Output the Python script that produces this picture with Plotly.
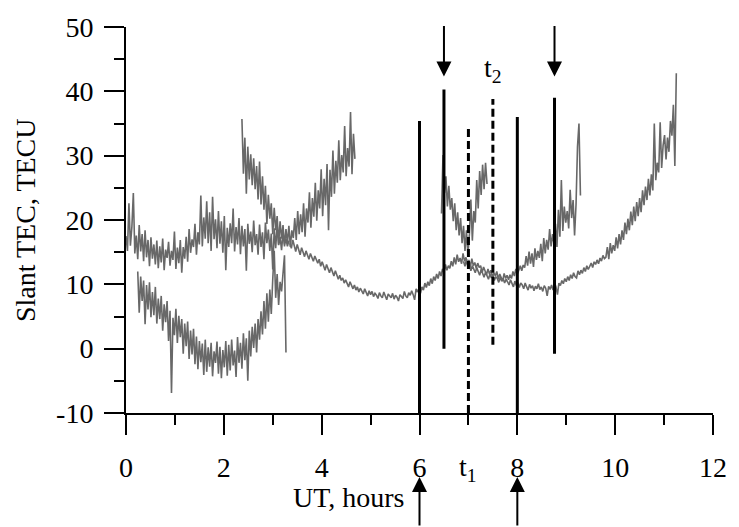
import plotly.graph_objects as go

# ---------------- data ----------------
# Each series: start time (h), sampling step (h), slant TEC values (TECU)
a_t0, a_dt = 0.0, 0.03
a_vals = [17.5, 15.2, 22.6, 16.0, 18.9, 24.2, 14.8, 17.6, 13.9, 19.2,
          15.1, 17.8, 13.6, 18.4, 14.2, 16.9, 12.8, 17.3, 14.0, 16.2,
          13.1, 16.8, 12.5, 15.9, 13.4, 17.1, 12.2, 15.4, 14.1, 16.6,
          12.9, 15.2, 13.8, 18.2, 12.4, 15.7, 13.3, 16.9, 11.8, 15.8,
          14.0, 17.4, 13.5, 18.6, 14.9, 17.0, 15.8, 19.4, 14.6, 18.1,
          16.2, 23.8, 15.9, 20.4, 17.1, 22.9, 16.4, 21.2, 15.2, 23.6,
          17.0, 20.1, 15.6, 21.4, 16.3, 19.8, 14.9, 20.6, 12.2, 18.8,
          15.8, 19.5, 16.4, 21.8, 15.1, 18.9, 16.2, 20.3, 14.7, 19.1,
          15.9, 18.6, 12.1, 19.4, 16.3, 18.2, 15.0, 19.9, 16.1, 17.8,
          14.6, 19.3, 15.8, 18.1, 13.9, 19.6, 16.4, 18.5, 15.2, 17.9,
          12.3, 18.7, 15.6, 19.2, 16.1, 17.4, 15.3, 18.0, 16.2, 17.1,
          15.9, 16.8]

b_t0, b_dt = 0.24, 0.03
b_vals = [12.0, 5.6, 11.2, 7.4, 10.6, 3.8, 9.9, 6.1, 10.3, 4.9,
          8.8, 5.2, 9.6, 3.9, 7.8, 4.6, 8.2, 2.8, 6.9, 4.1,
          7.4, 1.2, 5.9, -6.9, 4.8, 2.1, 6.2, 0.9, 5.1, 1.8,
          4.6, -0.8, 3.9, 0.4, 4.2, -1.6, 2.8, -0.9, 3.1, -2.4,
          1.9, -3.2, 1.2, -2.1, 0.8, -4.1, 1.4, -3.6, 0.2, -2.8,
          0.9, -4.3, -0.4, -2.2, 1.1, -3.9, 0.3, -4.6, -0.2, -2.9,
          1.2, -4.2, 0.6, -3.4, 1.4, -2.6, -0.3, -4.4, 1.8, -2.2,
          0.9, -3.1, 2.4, -1.8, 1.6, -5.0, 2.8, -1.2, 3.4, 0.1,
          3.9, -0.6, 4.6, 1.4, 5.8, 2.2, 7.4, 3.1, 8.6, 4.2,
          9.2, 5.4, 10.8, 15.2, 7.9, 11.6, 6.8, 10.4, 8.9, 12.1,
          14.5, -0.6]

c_t0, c_dt = 2.37, 0.03
c_vals = [35.7, 27.2, 32.8, 24.1, 31.4, 26.3, 30.2, 25.4, 29.6, 24.8,
          28.4, 23.2, 29.1, 22.4, 26.8, 21.6, 25.3, 19.4, 23.9, 20.2,
          22.6, 17.8, 21.9, 18.4, 20.6, 16.2, 19.8, 17.1, 19.2, 15.9,
          18.6, 16.4, 19.1, 15.8, 18.4, 17.2, 20.3, 16.9, 21.4, 17.8,
          20.9, 18.1, 22.6, 17.4, 21.8, 19.6, 24.3, 18.8, 23.4, 20.5,
          25.8, 19.9, 24.6, 21.8, 27.9, 20.6, 26.4, 22.3, 28.7, 18.4,
          27.8, 23.6, 30.8, 24.1, 29.2, 25.8, 32.4, 26.2, 30.1, 27.4,
          34.6, 26.8, 31.2, 28.3, 36.8, 27.1, 33.4, 29.5]

d_t0, d_dt = 3.35, 0.03
d_vals = [16.4, 15.6, 16.9, 15.8, 15.1, 16.2, 15.4, 14.6, 15.7, 15.0,
          14.3, 15.2, 14.6, 13.9, 14.8, 14.1, 13.6, 14.4, 13.8, 13.3,
          13.9, 12.8, 13.5, 12.9, 12.2, 13.1, 12.4, 11.8, 12.6, 11.9,
          11.3, 12.1, 11.5, 10.8, 11.4, 10.6, 11.0, 10.2, 10.7, 10.1,
          9.6, 10.4, 9.7, 9.3, 9.9, 9.1, 9.6, 8.8, 9.4, 9.0,
          8.5, 9.3, 8.7, 8.2, 9.0, 8.4, 8.9, 8.1, 8.6, 8.3,
          7.8, 8.7, 8.2, 7.9, 8.8, 8.0, 7.6, 8.5, 8.1, 7.9,
          8.6, 7.7, 8.3, 8.0, 7.4, 8.4, 8.1, 7.8, 8.9, 8.2,
          7.9, 8.7, 8.3, 9.0, 8.4, 7.6, 9.3, 8.8, 9.4, 8.6,
          9.6, 9.1, 10.2, 9.5, 10.4, 9.8, 10.9, 10.1, 11.2, 10.6,
          11.6, 10.9, 12.0, 11.3, 12.4, 11.8, 13.1, 12.2, 12.9, 12.5,
          13.6, 12.8, 14.2, 13.1, 14.6, 13.5, 14.1, 13.2, 14.8, 13.6,
          14.2, 13.1, 13.8, 12.7, 14.0, 12.9, 13.4, 12.5, 13.3, 12.6,
          12.9, 11.8, 12.7, 12.1, 11.5, 12.4, 11.6, 12.2, 11.1, 11.8,
          11.3, 12.0, 10.8, 11.6, 11.1, 10.5, 11.7, 10.9, 11.4, 10.7,
          11.5, 10.9, 12.0, 11.3, 12.4, 11.6, 12.2, 12.9, 12.1, 13.0,
          12.6, 14.4, 12.9, 15.1, 13.2, 14.8, 12.7, 15.6, 13.8, 15.2,
          14.1, 16.3, 13.6, 17.2, 14.8, 16.9, 15.4, 18.6, 15.9, 17.8,
          16.2, 19.4, 15.8, 21.6, 17.4, 26.2, 18.3, 22.1, 19.6, 21.4,
          18.7, 24.7, 20.3, 23.1, 17.6, 22.4, 31.4, 35.0, 23.8]

e_t0, e_dt = 6.45, 0.03
e_vals = [21.0, 30.1, 24.2, 26.8, 22.1, 25.3, 21.6, 23.4, 19.8, 22.6,
          18.4, 21.2, 17.6, 20.3, 16.4, 19.1, 15.2, 18.4, 14.6, 17.8,
          23.2, 16.8, 21.4, 19.6, 26.2, 21.8, 27.6, 23.9, 28.6, 24.8,
          28.9, 25.6]

f_t0, f_dt = 6.90, 0.03
f_vals = [13.6, 12.8, 13.9, 12.6, 13.2, 12.1, 12.9, 12.4, 11.8, 12.6,
          12.0, 11.4, 12.3, 11.6, 11.1, 11.9, 11.3, 10.8, 11.6, 11.0,
          11.4, 10.6, 11.2, 10.9, 10.3, 11.1, 10.5, 10.9, 10.2, 10.8,
          10.4, 9.9, 10.7, 10.1, 9.6, 10.5, 9.8, 10.3, 9.5, 10.2,
          9.9, 9.3, 10.2, 9.6, 9.1, 10.0, 9.4, 9.8, 9.0, 9.7,
          9.3, 10.1, 9.2, 9.6, 8.9, 9.8, 9.4, 8.2, 9.7, 9.2,
          9.9, 9.1, 10.3, 9.6, 8.4, 10.2, 9.8, 10.6, 10.1, 10.9,
          10.4, 11.2, 10.6, 11.5, 10.9, 11.8, 11.2, 11.0, 12.1, 11.5,
          12.2, 11.7, 12.6, 12.0, 12.9, 12.3, 12.7, 13.3, 12.6, 13.5,
          13.1, 13.8, 13.2, 14.1, 13.6, 14.5, 14.0,
          14.2, 15.8, 13.9, 16.4, 14.8, 16.1, 15.2, 17.3, 15.6, 17.8,
          16.2, 18.4, 16.9, 19.6, 17.8, 20.2, 18.4, 21.3, 19.2, 22.1,
          19.8, 22.8, 20.6, 23.4, 21.2, 24.6, 22.3, 25.2, 23.1, 26.4,
          23.8, 27.1, 24.6, 35.0, 26.2, 28.9, 27.4, 35.2, 28.1, 31.6,
          33.2, 29.4, 32.8, 30.6, 35.4, 33.1, 37.9, 28.4, 42.8]

series = [(a_t0, a_dt, a_vals), (b_t0, b_dt, b_vals), (c_t0, c_dt, c_vals),
          (d_t0, d_dt, d_vals), (e_t0, e_dt, e_vals), (f_t0, f_dt, f_vals)]

# vertical marker lines: time, bottom, top, dashed?
vline_x = [6.0, 6.5, 7.0, 7.5, 8.0, 8.76]
vline_bottom = [-10, 0.0, -10, 0.6, -10, -0.8]
vline_top = [35.4, 40.3, 34.2, 38.8, 36.0, 39.0]
vline_dashed = [False, False, True, True, False, False]

down_arrow_x = [6.5, 8.76]
down_arrow_tip = 42.3
up_arrow_x = [6.0, 8.0]

x_ticks = [0, 2, 4, 6, 8, 10, 12]
y_ticks = [-10, 0, 10, 20, 30, 40, 50]
y_ticktext = ["-10", "0", "10", "20", "30", "40", "50"]

FONT = "Liberation Serif, Times New Roman, serif"
GRAY = "#686868"
FS = 28

fig = go.Figure()
for t0, dt, vals in series:
    ts = [round(t0 + i * dt, 4) for i in range(len(vals))]
    fig.add_trace(go.Scatter(x=ts, y=vals, mode="lines",
                             line=dict(color=GRAY, width=1.6),
                             showlegend=False, hoverinfo="skip"))

for xv, yb, yt, dsh in zip(vline_x, vline_bottom, vline_top, vline_dashed):
    fig.add_trace(go.Scatter(x=[xv, xv], y=[yb, yt], mode="lines",
                             line=dict(color="black", width=3,
                                       dash="8px,4px" if dsh else "solid"),
                             showlegend=False, hoverinfo="skip"))

ann = []
for xv in down_arrow_x:
    ann.append(dict(x=xv, y=down_arrow_tip, xref="x", yref="y", text="",
                    showarrow=True, ax=0, ay=-52, arrowhead=2, arrowsize=1.5,
                    arrowwidth=2, arrowcolor="black", standoff=0))
for xv in up_arrow_x:
    ann.append(dict(x=xv, y=-0.166, xref="x", yref="paper", text="",
                    showarrow=True, ax=0, ay=50, arrowhead=2, arrowsize=1.5,
                    arrowwidth=2, arrowcolor="black", standoff=0))
ann.append(dict(x=7.0, y=-0.195, xref="x", yref="paper", text="t<sub>1</sub>",
                xanchor="center", yanchor="bottom", showarrow=False,
                font=dict(family=FONT, size=FS, color="black")))
ann.append(dict(x=7.5, y=43.4, xref="x", yref="y", text="t<sub>2</sub>",
                xanchor="center", yanchor="middle", showarrow=False,
                font=dict(family=FONT, size=FS, color="black")))
ann.append(dict(x=0.379, y=-0.265, xref="paper", yref="paper", text="UT, hours",
                xanchor="center", yanchor="bottom", showarrow=False,
                font=dict(family=FONT, size=FS, color="black")))
ann.append(dict(x=-0.172, y=0.5, xref="paper", yref="paper", text="Slant TEC, TECU",
                xanchor="center", yanchor="middle", textangle=-90, showarrow=False,
                font=dict(family=FONT, size=FS, color="black")))

axis_common = dict(showgrid=False, zeroline=False, showline=True, linecolor="black",
                   linewidth=2, ticks="outside", ticklen=20, tickwidth=2,
                   tickcolor="black", tickfont=dict(family=FONT, size=FS, color="black"))

fig.update_layout(
    width=739, height=527,
    margin=dict(l=126, r=16, t=22, b=114),
    paper_bgcolor="white", plot_bgcolor="white",
    xaxis=dict(range=[0, 12], tickvals=x_ticks, ticklabelstandoff=8,
               minor=dict(dtick=1, ticks="outside", ticklen=10, tickwidth=2,
                          tickcolor="black"),
               **axis_common),
    yaxis=dict(range=[-10, 50], tickvals=y_ticks, ticktext=y_ticktext,
               ticklabelstandoff=5,
               minor=dict(dtick=5, ticks="outside", ticklen=10, tickwidth=2,
                          tickcolor="black"),
               **axis_common),
    annotations=ann,
)

fig.write_html("out.html")
